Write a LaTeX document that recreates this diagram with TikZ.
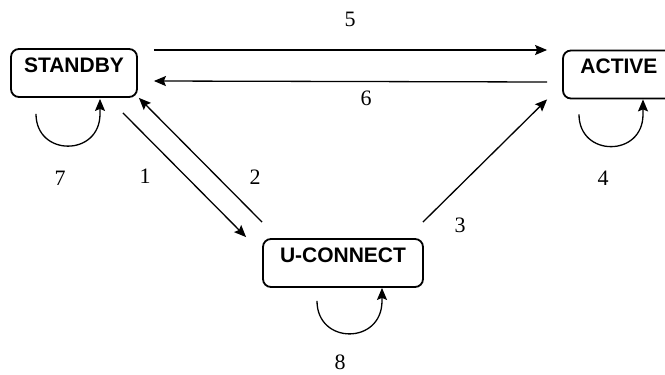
\documentclass[tikz,border=0pt]{standalone}
\usepackage{fontspec}
\setmainfont{Liberation Serif}
\newfontfamily\boxfont{Liberation Sans}
\usetikzlibrary{arrows.meta,calc}
\tikzset{
  statebox/.style={draw, line width=1.8pt, rounded corners=8pt, font=\boxfont\bfseries\fontsize{21}{24}\selectfont,
    inner xsep=0pt, inner ysep=9pt, text height=14pt, text depth=16pt, align=center},
  conn/.style={line width=1.3pt, -{Stealth[length=12pt,width=10pt,inset=2pt]}},
  num/.style={font=\fontsize{22}{24}\selectfont, inner sep=0pt}
}
\begin{document}
\begin{tikzpicture}[x=1pt,y=-1pt]
\useasboundingbox (0,0) rectangle (665,375);
\clip (0,0) rectangle (665,375);
\node[statebox, minimum width=126pt, minimum height=48pt] (SB) at (74,73) {STANDBY};
\node[statebox, minimum width=112pt, minimum height=47pt] (AC) at (619,74.5) {ACTIVE};
\node[statebox, minimum width=160pt, minimum height=48pt] (UC) at (343,263) {U-CONNECT};
% 5 and 6
\draw[conn] ([yshift=23pt,xshift=16pt]SB.east) -- ([yshift=24.5pt,xshift=-15pt]AC.west);
\draw[conn] ([yshift=-7.5pt,xshift=-15pt]AC.west) -- ([yshift=-8pt,xshift=16pt]SB.east);
% 1, 2, 3
\draw[conn] ($(SB.south east)+(-15,15)$) -- ($(UC.north west)+(-16,-1)$);
\draw[conn] ($(UC.north west)+(0,-16)$) -- ($(SB.south east)+(1,0)$);
\draw[conn] ($(UC.north east)+(-1,-16)$) -- ($(AC.south west)+(-15,0)$);
% loops
\draw[conn] ($(SB.south)+(-38,16)$) .. controls ($(SB.south)+(-38,59)$) and ($(SB.south)+(26,59)$) .. ($(SB.south)+(26,16)$) -- ($(SB.south)+(26,1)$);
\draw[conn] ($(AC.south)+(-40,15)$) .. controls ($(AC.south)+(-40,58)$) and ($(AC.south)+(24,58)$) .. ($(AC.south)+(24,15)$) -- ($(AC.south)+(24,0)$);
\draw[conn] ($(UC.south)+(-26,13)$) .. controls ($(UC.south)+(-26,57)$) and ($(UC.south)+(39,57)$) .. ($(UC.south)+(39,13)$) -- ($(UC.south)+(39,0)$);
% labels
\node[num] (l5) at (350,19) {5};
\node[num] (l6) at (366,98) {6};
\node[num] (l1) at (145,176) {1};
\node[num] (l2) at (255,177) {2};
\node[num] (l3) at (460,225) {3};
\node[num] (l4) at (603,178) {4};
\node[num] (l7) at (60,178) {7};
\node[num] (l8) at (340,362) {8};
\end{tikzpicture}
\end{document}
